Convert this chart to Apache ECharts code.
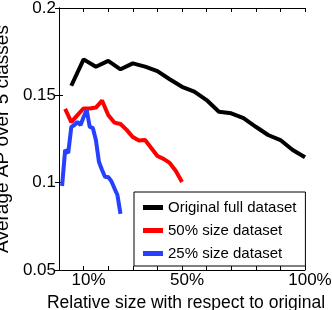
<!DOCTYPE html>
<html>
<head>
<meta charset="utf-8">
<script src="https://cdn.jsdelivr.net/npm/echarts@6/dist/echarts.min.js"></script>
<style>html,body{margin:0;padding:0;background:#fff}#c{width:332px;height:310px}</style>
</head>
<body>
<div id="c"></div>
<script>
// Relative size (%) of training data used
var fullX = [5,10,15,20,25,30,35,40,45,50,55,60,65,70,75,80,85,90,95,100];
var fullY = [0.1555,0.1706,0.1664,0.1697,0.1649,0.1683,0.1664,0.1639,0.1592,0.1549,0.1521,0.1473,0.1406,0.1397,0.1369,0.1320,0.1273,0.1244,0.1187,0.1145];
var halfX = [2.5,5,7.5,10,12.5,15,17.5,20,22.5,25,27.5,30,32.5,35,37.5,40,42.5,45,47.5,50];
var halfY = [0.1422,0.1347,0.1387,0.1425,0.1425,0.1430,0.1470,0.1387,0.1344,0.1336,0.1302,0.1261,0.1241,0.1244,0.1198,0.1153,0.1136,0.1113,0.1067,0.1004];
var quarterX = [1.25,2.5,3.75,5,6.25,7.5,8.75,10,11.25,12.5,13.75,15,16.25,17.5,18.75,20,21.25,22.5,23.75,25];
var quarterY = [0.0981,0.1187,0.1170,0.1319,0.1330,0.1347,0.1330,0.1376,0.1416,0.1319,0.1313,0.1244,0.1118,0.1073,0.1032,0.1032,0.1010,0.0969,0.0929,0.0821];
var seriesNames = ['Original full dataset','50% size dataset','25% size dataset'];
var xTickLabels = {10:'10%',50:'50%',100:'100%'};
var yTickLabels = [0.05,0.1,0.15,0.2];

function pairs(xs, ys){ return xs.map(function(x,i){ return [x, ys[i]]; }); }

var font = 'Liberation Sans, Arial, sans-serif';
var chart = echarts.init(document.getElementById('c'), null, {renderer:'canvas'});
chart.setOption({
  animation:false,
  grid:{left:59,right:27,top:8,bottom:40,containLabel:false,outerBoundsMode:'none'},
  legend:{
    data:seriesNames, orient:'vertical', left:134, top:192,
    backgroundColor:'#fff', borderColor:'#000', borderWidth:1,
    padding:[8,9,5,9], itemGap:8, itemWidth:20, itemHeight:5, itemTextGap:5,
    icon:'rect',
    textStyle:{fontFamily:font,fontSize:15,color:'#000'}
  },
  xAxis:[{
    type:'value', min:0, max:100, interval:10,
    name:'Relative size with respect to original', nameLocation:'middle', nameGap:21,
    nameTextStyle:{fontFamily:font,fontSize:17.5,color:'#000',padding:[0,0,0,8]},
    axisLine:{lineStyle:{color:'#000',width:1}},
    axisTick:{inside:true,length:4,lineStyle:{color:'#000'}},
    splitLine:{show:false},
    axisLabel:{fontFamily:font,fontSize:17,color:'#000',margin:2,padding:[0,0,0,10],
      formatter:function(v){ return xTickLabels[v] || ''; }}
  },{
    type:'value', position:'top', min:0, max:100, interval:10,
    axisLine:{lineStyle:{color:'#000',width:1}},
    axisTick:{inside:true,length:4,lineStyle:{color:'#000'}},
    axisLabel:{show:false}, splitLine:{show:false}
  }],
  yAxis:[{
    type:'value', min:0.05, max:0.2, interval:0.05,
    name:'Average AP over 5 classes', nameLocation:'middle', nameGap:41,
    nameTextStyle:{fontFamily:font,fontSize:19,color:'#000'},
    axisLine:{show:true,lineStyle:{color:'#000',width:1}},
    axisTick:{show:true,inside:true,length:4,lineStyle:{color:'#000'}},
    splitLine:{show:false},
    axisLabel:{fontFamily:font,fontSize:17,color:'#000',margin:3,
      formatter:function(v){ for(var i=0;i<yTickLabels.length;i++){ if(Math.abs(yTickLabels[i]-v)<1e-9) return String(yTickLabels[i]); } return ''; }}
  },{
    type:'value', position:'right', min:0.05, max:0.2, interval:0.05,
    axisLine:{show:true,lineStyle:{color:'#000',width:1}},
    axisTick:{show:true,inside:true,length:4,lineStyle:{color:'#000'}},
    axisLabel:{show:false}, splitLine:{show:false}
  }],
  series:[
    {name:seriesNames[0],type:'line',data:pairs(fullX,fullY),showSymbol:false,symbol:'none',
     lineStyle:{color:'#000',width:4},itemStyle:{color:'#000'},z:2},
    {name:seriesNames[1],type:'line',data:pairs(halfX,halfY),showSymbol:false,symbol:'none',
     lineStyle:{color:'#ff0000',width:4},itemStyle:{color:'#ff0000'},z:3},
    {name:seriesNames[2],type:'line',data:pairs(quarterX,quarterY),showSymbol:false,symbol:'none',
     lineStyle:{color:'#2540ff',width:4},itemStyle:{color:'#2540ff'},z:4}
  ]
});
</script>
</body>
</html>
